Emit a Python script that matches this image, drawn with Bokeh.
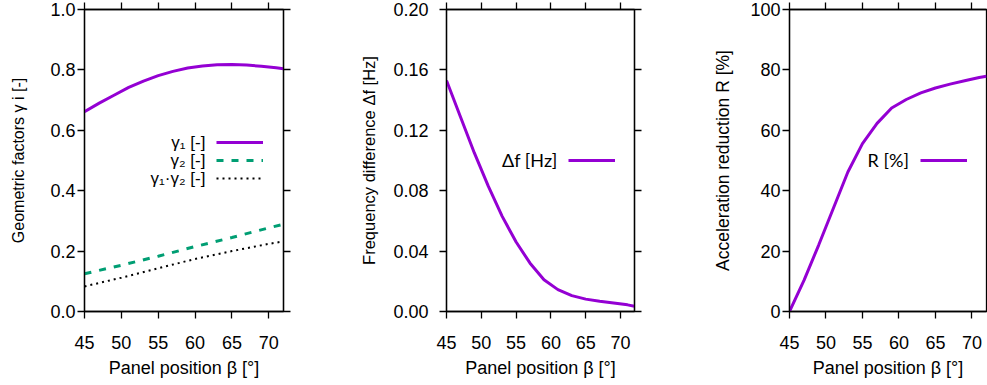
from bokeh.plotting import figure
from bokeh.layouts import row
from bokeh.models import Range1d, LinearAxis, FixedTicker, NumeralTickFormatter, Legend, LegendItem, Label
from bokeh.embed import file_html
from bokeh.resources import INLINE

# ---- data ----
beta = [45, 47, 49, 51, 53, 55, 57, 59, 61, 63, 65, 67, 69, 71, 72]
gamma1 = [0.662, 0.690, 0.716, 0.742, 0.763, 0.781, 0.795, 0.806, 0.813, 0.817, 0.818, 0.816, 0.812, 0.807, 0.804]
beta_lin = [45, 50, 55, 60, 65, 70, 72]
gamma2 = [0.125, 0.153, 0.183, 0.215, 0.245, 0.277, 0.289]
gamma12 = [0.083, 0.112, 0.143, 0.174, 0.200, 0.224, 0.232]
delta_f = [0.153, 0.129, 0.105, 0.083, 0.063, 0.046, 0.032, 0.021, 0.0145, 0.0105, 0.0082, 0.0068, 0.0057, 0.0044, 0.0035]
reduction = [0, 10.4, 22.0, 34.1, 46.2, 55.6, 62.3, 67.4, 70.2, 72.4, 74.0, 75.3, 76.4, 77.5, 77.9]

x_ticks = [45, 50, 55, 60, 65, 70]
y1_ticks = [0.0, 0.2, 0.4, 0.6, 0.8, 1.0]
y2_ticks = [0.0, 0.04, 0.08, 0.12, 0.16, 0.20]
y3_ticks = [0, 20, 40, 60, 80, 100]

legend1_labels = ["γ₁ [-]", "γ₂ [-]", "γ₁·γ₂ [-]"]
legend2_label = "Δf [Hz]"
legend3_label = "R [%]"

FONT = "Liberation Sans"
TICK_SIZE = "18px"
PURPLE = "#9400D3"
GREEN = "#009E73"


def style_axis(ax, ticks):
    ax.ticker = FixedTicker(ticks=ticks)
    ax.major_tick_out = 7
    ax.major_tick_in = 0
    ax.minor_tick_out = 0
    ax.minor_tick_in = 0
    ax.axis_line_color = "black"
    ax.major_tick_line_color = "black"
    ax.axis_line_width = 1.3
    ax.major_tick_line_width = 1.3
    ax.major_label_text_font = FONT
    ax.major_label_text_font_size = TICK_SIZE
    ax.major_label_text_color = "black"
    ax.axis_label_text_font = FONT
    ax.axis_label_text_font_style = "normal"
    ax.axis_label_text_color = "black"


def mirror(ticks):
    ax = LinearAxis()
    style_axis(ax, ticks)
    ax.major_label_overrides = {t: "" for t in ticks}
    ax.major_label_text_font_size = "1px"
    ax.major_label_standoff = 0
    ax.axis_label = None
    return ax


def make_panel(width, left, right, yr, yticks, fmt, ylabel, ylabel_size, tick_standoff, label_standoff, mirror_right=True):
    p = figure(width=width, height=385, x_range=Range1d(45, 72), y_range=Range1d(*yr),
               min_border_left=left, min_border_right=right, min_border_top=9, min_border_bottom=74,
               output_backend="svg", toolbar_location=None, tools="")
    p.xgrid.visible = False
    p.ygrid.visible = False
    p.outline_line_color = "black"
    p.outline_line_width = 1.3
    p.background_fill_color = "white"
    p.border_fill_color = "white"
    style_axis(p.xaxis[0], x_ticks)
    p.xaxis[0].axis_label = "Panel position β [°]"
    p.xaxis[0].axis_label_text_font_size = "18px"
    p.xaxis[0].major_label_standoff = 17
    p.xaxis[0].axis_label_standoff = 6
    style_axis(p.yaxis[0], yticks)
    p.yaxis[0].formatter = NumeralTickFormatter(format=fmt)
    p.yaxis[0].axis_label = ylabel
    p.yaxis[0].axis_label_text_font_size = ylabel_size
    p.yaxis[0].major_label_standoff = tick_standoff
    p.yaxis[0].axis_label_standoff = label_standoff
    p.add_layout(mirror(x_ticks), "above")
    if mirror_right:
        p.add_layout(mirror(yticks), "right")
    return p


def add_legend(p, renderers, loc, texts, text_x, text_ys, font, size):
    leg = Legend(items=[LegendItem(label="", renderers=[r]) for r in renderers],
                 location=loc, padding=0, margin=0, spacing=0,
                 glyph_width=47, glyph_height=18, label_height=18, label_width=0,
                 label_standoff=0, label_text_font_size="1px",
                 border_line_alpha=0, background_fill_alpha=0)
    p.add_layout(leg)
    for t, ty in zip(texts, text_ys):
        p.add_layout(Label(x=text_x, y=ty, text=t, text_align="right", text_baseline="middle",
                           text_font=font, text_font_size=size, text_color="black"))


# Panel 1
p1 = make_panel(330, 84, 47, (0, 1), y1_ticks, "0.0", "Geometric factors γ i [-]", "16px", 2, 20)
r1 = p1.line(beta, gamma1, line_color=PURPLE, line_width=3)
r2 = p1.line(beta_lin, gamma2, line_color=GREEN, line_width=3, line_dash="7 8")
r3 = p1.line(beta_lin, gamma12, line_color="black", line_width=2, line_dash="2 4")
add_legend(p1, [r1, r2, r3], (132, 124), legend1_labels, 61.4, [0.561, 0.501, 0.441], FONT, "17px")

# Panel 2
p2 = make_panel(330, 116, 26, (0, 0.2), y2_ticks, "0.00", "Frequency difference Δf [Hz]", "16.5px", 11, 12)
r4 = p2.line(beta, delta_f, line_color=PURPLE, line_width=3)
add_legend(p2, [r4], (122, 142), [legend2_label], 60.94, [0.1002], "Lato", "18px")

# Panel 3
p3 = make_panel(327, 129, 1, (0, 100), y3_ticks, "0", "Acceleration reduction R [%]", "17.5px", 2, 14, mirror_right=False)
r5 = p3.line(beta, reduction, line_color=PURPLE, line_width=3)
add_legend(p3, [r5], (131, 142), [legend3_label], 61.37, [50.1], "Lato", "18px")

layout = row(p1, p2, p3)
open("out.html", "w").write(file_html(layout, INLINE))
